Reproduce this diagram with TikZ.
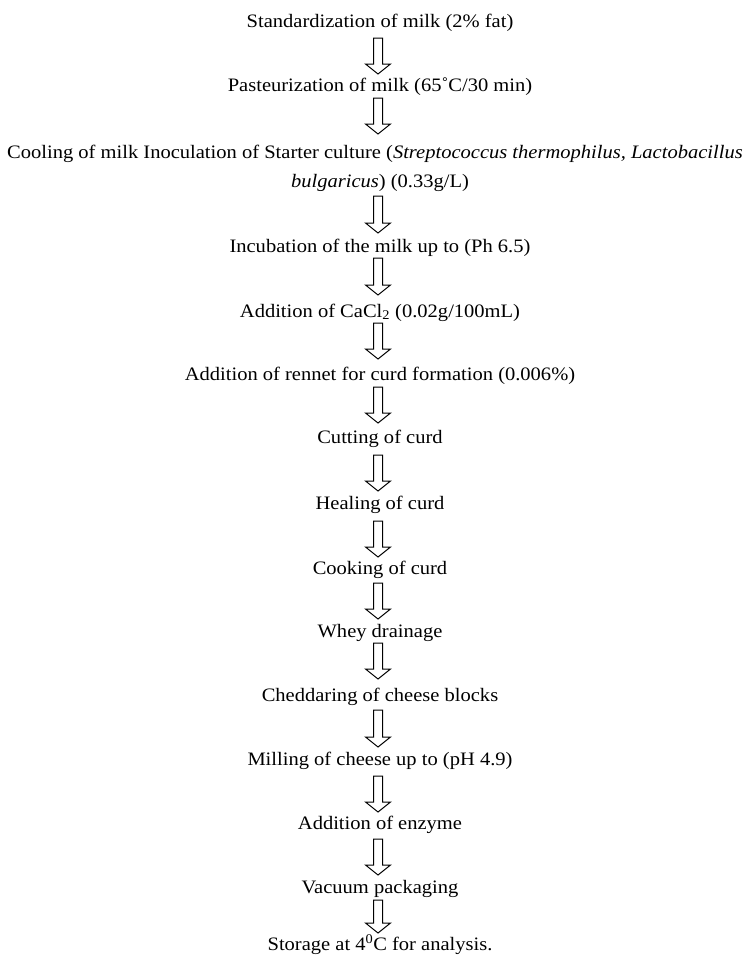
\documentclass[tikz,border=0pt]{standalone}
\usepackage{fontspec}
\setmainfont{Liberation Serif}[FakeStretch=1.08]
\usetikzlibrary{calc}
\tikzset{
  lbl/.style={anchor=base, inner sep=0pt, font=\fontsize{19}{23}\selectfont},
  barrow/.style={draw=black, line width=1pt, fill=white, line join=miter}
}
\newcommand\downarr[2]{%
  \draw[barrow] ($(#1)+(-4.5,0)$) -- ($(#2)+(-4.5,-10)$) -- ($(#2)+(-12.5,-10)$) -- (#2)
    -- ($(#2)+(12.5,-10)$) -- ($(#2)+(4.5,-10)$) -- ($(#1)+(4.5,0)$) -- cycle;}
\begin{document}
\begin{tikzpicture}[x=1pt,y=-1pt]
\useasboundingbox[fill=white] (0,0) rectangle (749,962);
\node[lbl] (n1) at (380,27) {Standardization of milk (2\% fat)};
\node[lbl] (n2) at (380,91) {Pasteurization of milk (65˚C/30 min)};
\node[lbl] (n3) at (375,158) {Cooling of milk Inoculation of Starter culture (\textit{Streptococcus thermophilus, Lactobacillus}};
\node[lbl] (n4) at (380,187) {\textit{bulgaricus}) (0.33g/L)};
\node[lbl] (n5) at (380,252) {Incubation of the milk up to (Ph 6.5)};
\node[lbl] (n6) at (380,317) {Addition of CaCl\textsubscript{2} (0.02g/100mL)};
\node[lbl] (n7) at (380,380) {Addition of rennet for curd formation (0.006\%)};
\node[lbl] (n8) at (380,443) {Cutting of curd};
\node[lbl] (n9) at (380,509) {Healing of curd};
\node[lbl] (n10) at (380,574) {Cooking of curd};
\node[lbl] (n11) at (380,637) {Whey drainage};
\node[lbl] (n12) at (380,701) {Cheddaring of cheese blocks};
\node[lbl] (n13) at (380,765) {Milling of cheese up to (pH 4.9)};
\node[lbl] (n14) at (380,829) {Addition of enzyme};
\node[lbl] (n15) at (380,893) {Vacuum packaging};
\node[lbl] (n16) at (380,950) {Storage at 4\textsuperscript{0}C for analysis.};
% arrow ends
\coordinate (a1s) at (378,38);  \coordinate (a1e) at (378,74);
\coordinate (a2s) at (378,98);  \coordinate (a2e) at (378,134);
\coordinate (a3s) at (378,196); \coordinate (a3e) at (378,233);
\coordinate (a4s) at (378,258); \coordinate (a4e) at (378,295);
\coordinate (a5s) at (378,323); \coordinate (a5e) at (378,359);
\coordinate (a6s) at (378,387); \coordinate (a6e) at (378,423);
\coordinate (a7s) at (378,455); \coordinate (a7e) at (378,491);
\coordinate (a8s) at (378,521); \coordinate (a8e) at (378,557);
\coordinate (a9s) at (378,583); \coordinate (a9e) at (378,619);
\coordinate (a10s) at (378,643); \coordinate (a10e) at (378,679);
\coordinate (a11s) at (378,710); \coordinate (a11e) at (378,747);
\coordinate (a12s) at (378,776); \coordinate (a12e) at (378,812);
\coordinate (a13s) at (378,839); \coordinate (a13e) at (378,875);
\coordinate (a14s) at (378,900); \coordinate (a14e) at (378,933);
\foreach \i in {1,...,14}{\downarr{a\i s}{a\i e}}
\end{tikzpicture}
\end{document}
